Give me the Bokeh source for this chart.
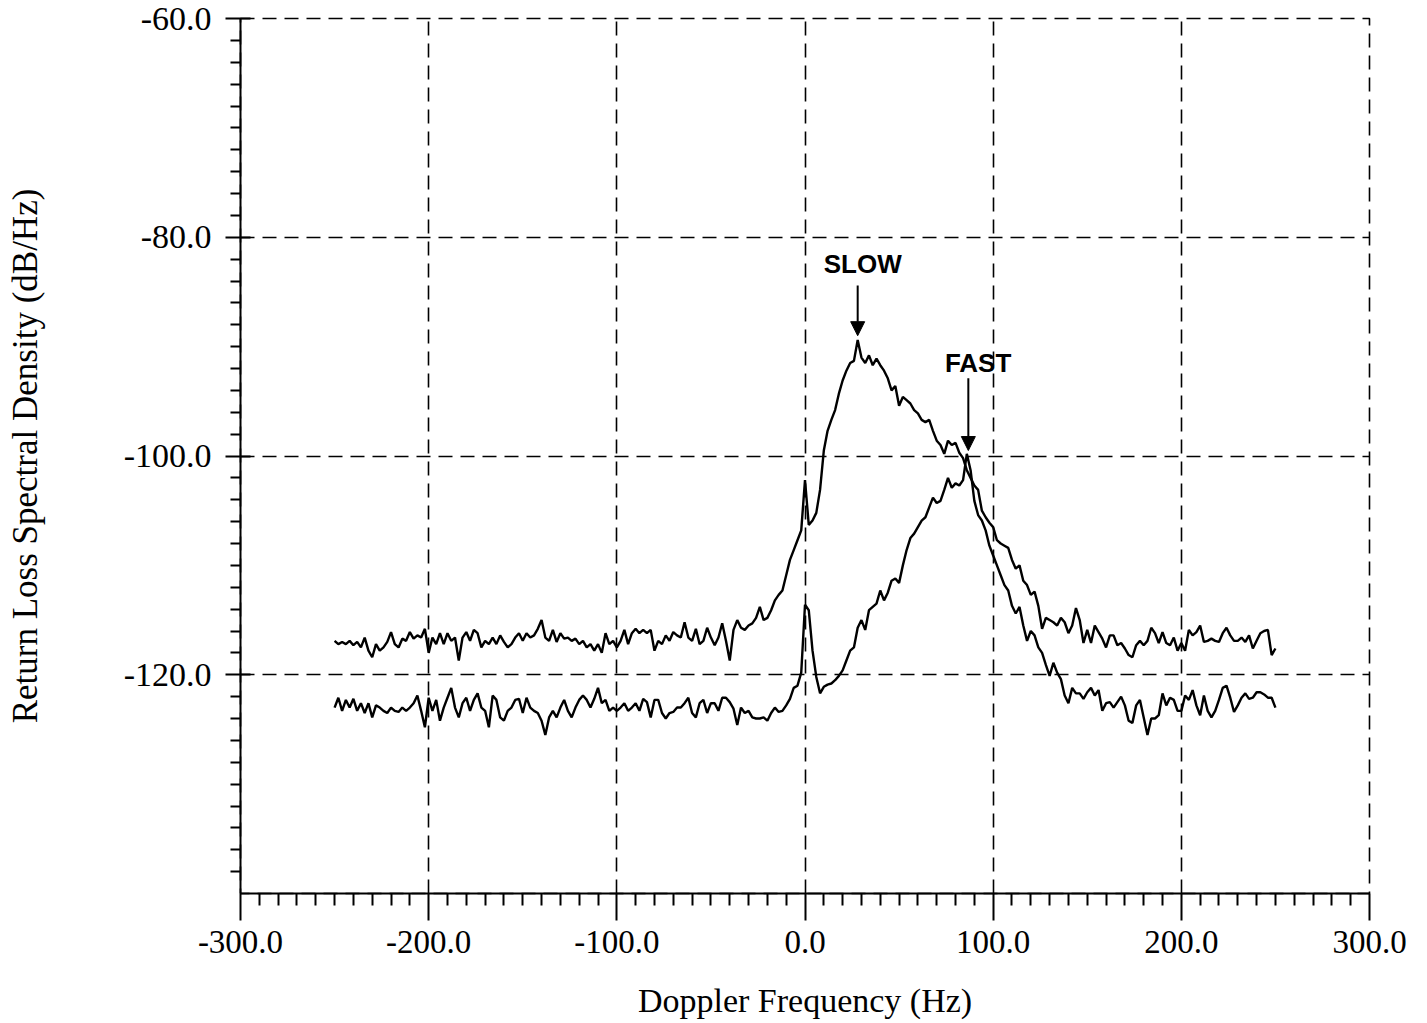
from bokeh.plotting import figure
from bokeh.models import FixedTicker, Range1d, Label, Arrow, NormalHead, PrintfTickFormatter
from bokeh.embed import file_html
from bokeh.resources import INLINE

# Doppler frequency samples (Hz)
freq = list(range(-250, 251, 2))

# "SLOW" spectrum (dB/Hz)
slow = [
    -116.9, -117.2, -117.0, -117.2, -116.9, -117.3, -117.0, -117.5, -116.6, -117.8,
    -118.4, -117.2, -117.8, -117.5, -117.0, -116.1, -117.2, -117.5, -116.7, -116.9,
    -116.1, -116.7, -116.4, -116.6, -115.8, -118.0, -116.6, -117.2, -116.2, -117.2,
    -116.2, -116.9, -116.6, -118.7, -116.6, -116.1, -116.9, -115.9, -116.2, -117.5,
    -116.9, -117.2, -116.6, -117.2, -116.4, -117.0, -117.5, -117.2, -116.6, -116.2,
    -116.9, -116.2, -116.6, -116.4, -115.8, -115.0, -116.6, -116.9, -115.9, -117.0,
    -116.2, -116.7, -116.6, -116.9, -116.7, -117.2, -116.9, -117.5, -117.2, -117.8,
    -117.2, -118.0, -116.2, -117.2, -116.9, -117.5, -116.9, -115.9, -117.2, -116.2,
    -115.8, -116.2, -115.9, -116.2, -115.9, -117.8, -116.9, -117.2, -116.4, -116.9,
    -116.1, -116.4, -116.6, -115.2, -116.6, -116.9, -115.8, -117.2, -116.9, -115.7,
    -116.6, -117.3, -116.6, -115.3, -116.9, -118.7, -115.9, -115.0, -115.7, -115.9,
    -115.5, -115.3, -114.8, -113.8, -115.0, -114.8, -114.1, -113.2, -112.7, -112.3,
    -110.9, -109.5, -108.6, -107.7, -106.8, -102.2, -106.3, -105.9, -105.2, -103.1,
    -99.5, -97.7, -96.7, -95.8, -94.3, -93.1, -92.2, -91.5, -91.3, -89.4,
    -91.0, -91.5, -90.8, -91.7, -91.1, -91.7, -92.2, -92.9, -94.0, -93.6,
    -95.4, -94.6, -94.9, -95.2, -95.8, -96.1, -96.7, -96.9, -96.7, -97.7,
    -98.6, -99.0, -99.8, -98.6, -99.0, -98.8, -99.7, -100.2, -101.3, -102.0,
    -102.7, -103.1, -105.0, -105.6, -106.1, -106.5, -107.7, -108.0, -108.2, -108.4,
    -109.5, -110.3, -110.0, -111.4, -111.8, -112.7, -112.4, -113.7, -115.8, -114.8,
    -115.0, -115.2, -115.5, -114.8, -115.2, -116.2, -115.5, -113.9, -115.0, -117.1,
    -115.9, -117.1, -115.5, -116.1, -116.7, -117.5, -116.4, -116.4, -117.3, -117.1,
    -117.6, -118.2, -118.4, -117.3, -116.9, -117.3, -116.9, -115.7, -116.2, -117.1,
    -116.1, -117.1, -117.3, -116.6, -117.8, -117.1, -117.8, -115.9, -116.4, -116.1,
    -115.5, -117.0, -116.9, -116.7, -116.9, -117.0, -116.2, -115.7, -116.4, -116.9,
    -116.9, -116.6, -117.0, -116.4, -117.6, -116.9, -116.2, -116.0, -115.9, -118.2,
    -117.6,
]

# "FAST" spectrum (dB/Hz)
fast = [
    -123.0, -122.1, -123.3, -122.3, -123.0, -122.2, -123.3, -122.6, -123.5, -122.6,
    -123.9, -122.8, -123.0, -123.3, -123.5, -123.0, -123.3, -123.4, -123.0, -123.3,
    -123.0, -122.6, -121.9, -123.3, -124.8, -122.1, -123.3, -122.3, -124.2, -123.0,
    -122.1, -121.2, -123.0, -123.9, -122.6, -122.1, -123.3, -122.3, -121.7, -123.0,
    -123.3, -124.8, -121.9, -122.3, -123.9, -124.2, -123.3, -123.0, -122.3, -122.2,
    -123.5, -122.1, -123.0, -123.3, -123.5, -124.2, -125.5, -123.9, -123.3, -123.9,
    -123.0, -122.3, -123.3, -123.9, -123.0, -122.3, -121.9, -122.3, -123.0, -122.2,
    -121.2, -122.6, -122.3, -123.3, -123.0, -123.3, -123.0, -122.6, -123.3, -123.0,
    -122.6, -123.3, -122.2, -122.5, -123.9, -122.3, -122.3, -123.5, -124.0, -123.5,
    -123.4, -123.0, -123.0, -122.6, -122.1, -123.5, -123.9, -122.6, -122.3, -123.5,
    -122.6, -122.6, -123.3, -122.1, -122.1, -122.5, -123.1, -124.6, -123.0, -123.5,
    -123.3, -123.9, -124.0, -124.0, -123.9, -124.2, -123.5, -123.0, -123.4, -123.3,
    -122.8, -122.2, -121.2, -121.0, -119.8, -113.6, -114.1, -117.8, -120.2, -121.7,
    -121.1, -120.9, -120.8, -120.5, -120.1, -119.6, -118.7, -117.8, -117.5, -115.7,
    -115.0, -115.9, -114.1, -113.8, -113.5, -112.3, -113.2, -112.5, -111.4, -111.2,
    -111.6, -110.0, -108.6, -107.5, -107.1, -106.5, -105.9, -105.6, -104.7, -103.8,
    -104.3, -104.1, -103.1, -102.0, -102.9, -102.5, -102.7, -102.2, -99.8, -101.3,
    -104.1, -105.4, -105.9, -106.8, -108.2, -109.1, -110.0, -110.9, -111.8, -112.3,
    -113.7, -114.4, -113.8, -115.5, -116.9, -116.0, -116.4, -117.5, -118.0, -119.1,
    -120.1, -118.9, -119.8, -120.4, -121.9, -122.6, -121.2, -121.7, -121.7, -122.2,
    -121.6, -121.2, -121.9, -121.4, -123.3, -122.6, -122.5, -123.0, -122.5, -122.0,
    -122.8, -124.2, -124.4, -122.8, -122.3, -123.9, -125.5, -124.0, -124.0, -123.7,
    -121.7, -122.8, -122.1, -122.3, -123.3, -123.3, -121.9, -122.3, -121.4, -122.8,
    -123.7, -121.9, -123.3, -123.9, -123.3, -122.3, -121.2, -121.0, -122.1, -123.4,
    -122.8, -122.1, -121.7, -122.2, -122.1, -121.6, -121.6, -121.8, -122.1, -122.1,
    -123.0,
]

x_major = [-300, -200, -100, 0, 100, 200, 300]
y_major = [-120, -100, -80, -60]
x_grid = [-200, -100, 0, 100, 200]
y_grid = [-120, -100, -80]

SERIF = "Liberation Serif"
SANS = "Liberation Sans"
DASH = "14 8"

p = figure(width=1427, height=1023,
           x_range=Range1d(-300, 300), y_range=Range1d(-140, -60),
           output_backend="svg", toolbar_location=None,
           min_border_left=240, min_border_right=58,
           min_border_top=18, min_border_bottom=130)
# dashed frame (top and right show; left/bottom are covered by solid axes)
p.outline_line_color = "black"
p.outline_line_width = 1.6
p.outline_line_dash = DASH
p.background_fill_color = "white"
p.border_fill_color = "white"

x_minor = [v for v in range(-300, 301, 10) if v % 100 != 0]
y_minor = [v for v in range(-140, -59, 2) if v % 20 != 0]

xa = p.xaxis[0]
xa.ticker = FixedTicker(ticks=x_major, minor_ticks=x_minor)
xa.formatter = PrintfTickFormatter(format="%.1f")
xa.axis_label = "Doppler Frequency (Hz)"
xa.axis_line_width = 2
xa.major_tick_line_width = 2
xa.minor_tick_line_width = 2
xa.major_tick_out = 27
xa.major_tick_in = 0
xa.minor_tick_out = 12
xa.minor_tick_in = 0
xa.major_label_standoff = 10
xa.axis_label_standoff = 26
xa.major_label_text_font = SERIF
xa.major_label_text_font_size = "33px"
xa.major_label_text_color = "black"
xa.axis_label_text_font = SERIF
xa.axis_label_text_font_style = "normal"
xa.axis_label_text_font_size = "34px"
xa.axis_label_text_color = "black"

ya = p.yaxis[0]
ya.ticker = FixedTicker(ticks=y_major, minor_ticks=y_minor)
ya.formatter = PrintfTickFormatter(format="%.1f")
ya.axis_label = "Return Loss Spectral Density (dB/Hz)"
ya.axis_line_width = 2
ya.major_tick_line_width = 2
ya.minor_tick_line_width = 2
ya.major_tick_out = 15
ya.major_tick_in = 10
ya.minor_tick_out = 10
ya.minor_tick_in = 0
ya.major_label_standoff = 14
ya.axis_label_standoff = 76
ya.major_label_text_font = SERIF
ya.major_label_text_font_size = "34px"
ya.major_label_text_color = "black"
ya.axis_label_text_font = SERIF
ya.axis_label_text_font_style = "normal"
ya.axis_label_text_font_size = "35px"
ya.axis_label_text_color = "black"

p.xgrid.ticker = FixedTicker(ticks=x_grid)
p.ygrid.ticker = FixedTicker(ticks=y_grid)
for g in (p.xgrid[0], p.ygrid[0]):
    g.grid_line_color = "black"
    g.grid_line_width = 1.6
    g.grid_line_dash = DASH
    g.grid_line_alpha = 1.0

p.line(freq, slow, line_color="black", line_width=2.4)
p.line(freq, fast, line_color="black", line_width=2.4)

p.add_layout(Label(x=30.7, y=-82.4, text="SLOW", text_font=SANS, text_font_style="bold",
                   text_color="black", text_font_size="26px",
                   text_align="center", text_baseline="middle"))
p.add_layout(Label(x=92.0, y=-91.5, text="FAST", text_font=SANS, text_font_style="bold",
                   text_color="black", text_font_size="26px",
                   text_align="center", text_baseline="middle"))
p.add_layout(Arrow(end=NormalHead(size=14, fill_color="black", line_color="black"),
                   x_start=28, y_start=-84.4, x_end=28, y_end=-89.0, line_width=2))
p.add_layout(Arrow(end=NormalHead(size=14, fill_color="black", line_color="black"),
                   x_start=86.8, y_start=-92.9, x_end=86.8, y_end=-99.5, line_width=2))

open("out.html", "w").write(file_html(p, INLINE))
